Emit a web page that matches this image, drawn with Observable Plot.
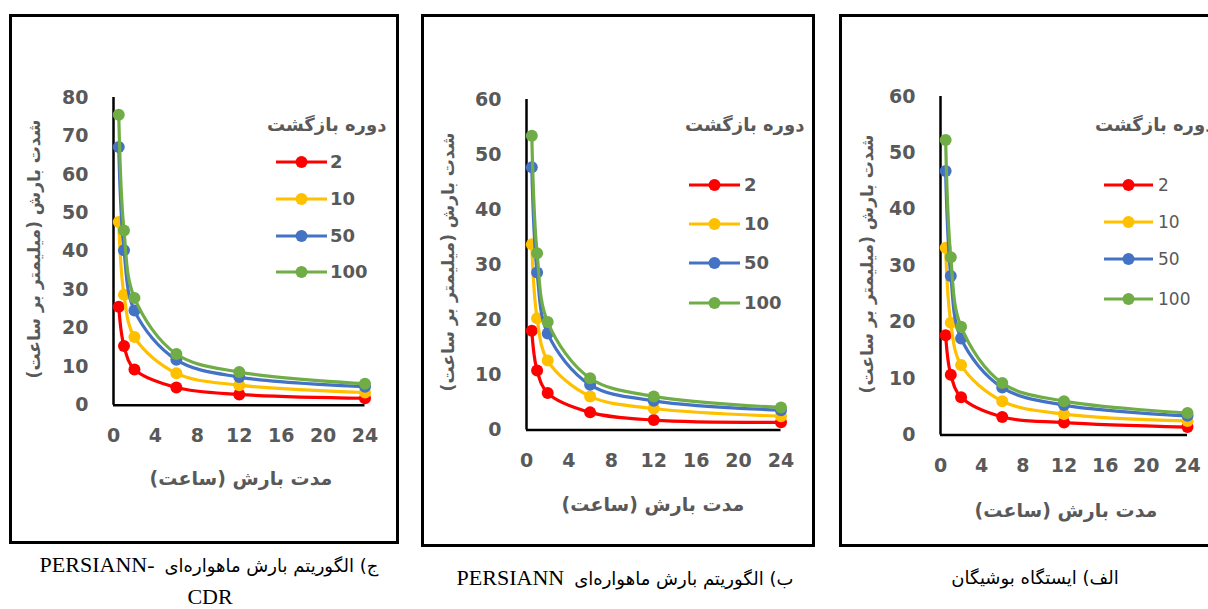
<!DOCTYPE html>
<html><head><meta charset="utf-8">
<script src="https://cdn.jsdelivr.net/npm/d3@7"></script>
<script src="https://cdn.jsdelivr.net/npm/@observablehq/plot@0.6"></script>
<style>
html,body{margin:0;padding:0;background:#fff;overflow:hidden;width:1208px;height:609px}
#root{position:relative;width:1208px;height:609px;overflow:hidden;background:#fff}
.box{position:absolute;border:3px solid #000;box-sizing:border-box}
.abs{position:absolute;white-space:nowrap;line-height:1}
.fa{font-family:"DejaVu Sans",sans-serif;color:#595959;font-weight:bold}
.lg{font-family:"DejaVu Sans",sans-serif;color:#595959;font-size:18px;font-weight:bold}
.lg.reg{font-weight:normal;font-size:17px}
.cap{font-family:"Liberation Serif",serif;color:#000;font-size:22px}
.capfa{font-family:"DejaVu Sans",sans-serif;color:#000;font-size:18px}
</style></head>
<body><div id="root"></div>
<script>
// ---- data ----
const durations = [0.5, 1, 2, 6, 12, 24];           // hours
const returnPeriods = ["2", "10", "50", "100"];
const seriesColors = ["#FF0000", "#FFC000", "#4472C4", "#70AD47"];
const xTicks = [0, 4, 8, 12, 16, 20, 24];
const yTicks80 = [0, 10, 20, 30, 40, 50, 60, 70, 80];
const yTicks60 = [0, 10, 20, 30, 40, 50, 60];

// ج) PERSIANN-CDR
const cdr_2   = [25.6, 15.4, 9.3, 4.6, 2.8, 1.8];
const cdr_10  = [47.6, 28.7, 17.7, 8.3, 5.2, 3.3];
const cdr_50  = [67.1, 40.3, 24.6, 11.8, 7.3, 4.8];
const cdr_100 = [75.5, 45.4, 27.9, 13.3, 8.6, 5.6];
// ب) PERSIANN
const per_2   = [18.0, 10.8, 6.7, 3.2, 1.8, 1.4];
const per_10  = [33.7, 20.3, 12.6, 6.1, 3.9, 2.5];
const per_50  = [47.7, 28.6, 17.5, 8.2, 5.3, 3.6];
const per_100 = [53.4, 32.1, 19.6, 9.4, 6.1, 4.1];
// الف) Station
const sta_2   = [17.7, 10.7, 6.7, 3.2, 2.2, 1.4];
const sta_10  = [33.2, 19.9, 12.4, 6.0, 3.7, 2.5];
const sta_50  = [46.8, 28.2, 17.1, 8.4, 5.3, 3.4];
const sta_100 = [52.3, 31.5, 19.2, 9.2, 6.0, 3.9];

const yTitle = "شدت بارش (میلیمتر بر ساعت)";
const xTitle = "مدت بارش (ساعت)";
const legendTitle = "دوره بازگشت";

// ---- layout ----
const panels = [
  {box:[9,14,390,530], x0:113, x24:364.5, y0:405, ytop:97.3, ymax:80, yTicks:yTicks80,
   values:[cdr_2,cdr_10,cdr_50,cdr_100],
   yT:[34,249], xT:[241,478],
   lgTitle:{left:267, top:125}, lg:{lineL:276, lineR:327, text:330, ys:[162,199,236,272], reg:false}},
  {box:[421,14,394,533], x0:525.5, x24:780, y0:429, ytop:98.5, ymax:60, yTicks:yTicks60,
   values:[per_2,per_10,per_50,per_100],
   yT:[448,262], xT:[653,504],
   lgTitle:{left:685, top:124.5}, lg:{lineL:689, lineR:740, text:744, ys:[185,224,263,303], reg:false}},
  {box:[839,14,400,533], x0:940, x24:1187, y0:434, ytop:95.5, ymax:60, yTicks:yTicks60,
   values:[sta_2,sta_10,sta_50,sta_100],
   yT:[867,264], xT:[1066,510],
   lgTitle:{left:1095, top:125}, lg:{lineL:1104, lineR:1153, text:1158, ys:[185,222,259,299], reg:true}}
];

const root = document.getElementById("root");
function el(tag, cls, css, text) {
  const e = document.createElement(tag);
  if (cls) e.className = cls;
  Object.assign(e.style, css || {});
  if (text != null) e.textContent = text;
  root.appendChild(e);
  return e;
}

panels.forEach(p => {
  const [bl, bt, bw, bh] = p.box;
  el("div", "box", {left:bl+"px", top:bt+"px", width:bw+"px", height:bh+"px"});

  const mL = 60, mR = 22, mT = 14, mB = 52;
  const W = mL + (p.x24 - p.x0) + mR;
  const H = mT + (p.y0 - p.ytop) + mB;
  const data = returnPeriods.flatMap((rp, i) => p.values[i].map((v, j) => ({d: durations[j], v, rp})));

  const marks = [
    Plot.ruleX([0], {stroke: "#000", strokeWidth: 2.5}),
    Plot.ruleY([0], {stroke: "#000", strokeWidth: 2.5}),
    Plot.axisX({ticks: xTicks, tickSize: 0, tickPadding: 23, fontSize: 19, fontWeight: "bold", color: "#595959", label: null}),
    Plot.axisY({ticks: p.yTicks, tickSize: 0, tickPadding: 25, fontSize: 19, fontWeight: "bold", color: "#595959", label: null})
  ];
  returnPeriods.forEach(rp => {
    const sub = data.filter(d => d.rp === rp);
    marks.push(Plot.line(sub, {x: "d", y: "v", stroke: "rp", strokeWidth: 3.2, curve: "catmull-rom"}));
    marks.push(Plot.dot(sub, {x: "d", y: "v", fill: "rp", r: 6}));
  });

  const chart = Plot.plot({
    width: W, height: H,
    marginLeft: mL, marginRight: mR, marginTop: mT, marginBottom: mB,
    x: {domain: [0, 24]},
    y: {domain: [0, p.ymax]},
    color: {domain: returnPeriods, range: seriesColors},
    style: {fontFamily: "DejaVu Sans", background: "transparent", overflow: "visible"},
    marks
  });
  chart.style.position = "absolute";
  chart.style.left = (p.x0 - mL) + "px";
  chart.style.top = (p.ytop - mT) + "px";
  root.appendChild(chart);

  // y title
  const yt = el("div", "abs fa", {left:p.yT[0]+"px", top:p.yT[1]+"px", fontSize:"17px",
    transform:"translate(-50%,-50%) rotate(-90deg)"}, yTitle);
  yt.dir = "rtl";
  // x title
  const xt = el("div", "abs fa", {left:p.xT[0]+"px", top:p.xT[1]+"px", fontSize:"19px",
    transform:"translate(-50%,-50%)"}, xTitle);
  xt.dir = "rtl";
  // legend
  const lt = el("div", "abs fa", {left:p.lgTitle.left+"px", top:p.lgTitle.top+"px", fontSize:"18px",
    transform:"translateY(-50%)"}, legendTitle);
  lt.dir = "rtl";
  returnPeriods.forEach((rp, i) => {
    const y = p.lg.ys[i];
    const w = p.lg.lineR - p.lg.lineL;
    const s = document.createElementNS("http://www.w3.org/2000/svg", "svg");
    s.setAttribute("width", w); s.setAttribute("height", 14);
    s.style.position = "absolute"; s.style.left = p.lg.lineL + "px"; s.style.top = (y - 7) + "px";
    s.innerHTML = `<line x1="0" y1="7" x2="${w}" y2="7" stroke="${seriesColors[i]}" stroke-width="3.2"/>` +
                  `<circle cx="${w/2}" cy="7" r="6" fill="${seriesColors[i]}"/>`;
    root.appendChild(s);
    el("div", "abs lg" + (p.lg.reg ? " reg" : ""), {left:p.lg.text+"px", top:y+"px", transform:"translateY(-50%)"}, rp);
  });
});

// captions
function caption(cx, cy, latin, persian) {
  const d = el("div", "abs", {left:cx+"px", top:cy+"px", transform:"translate(-50%,-50%)",
    display:"flex", alignItems:"baseline", gap:"10px"});
  if (latin) { const a = document.createElement("span"); a.className = "cap"; a.textContent = latin; a.dir = "ltr"; d.appendChild(a); }
  const b = document.createElement("span"); b.className = "capfa"; b.textContent = persian; b.dir = "rtl"; d.appendChild(b);
}
caption(209, 565, "PERSIANN-", "ج) الگوریتم بارش ماهواره‌ای");
el("div", "abs cap", {left:"210px", top:"597px", transform:"translate(-50%,-50%)"}, "CDR");
caption(625, 578, "PERSIANN", "ب) الگوریتم بارش ماهواره‌ای");
caption(1035, 578, null, "الف) ایستگاه بوشیگان");
</script>
</body></html>
